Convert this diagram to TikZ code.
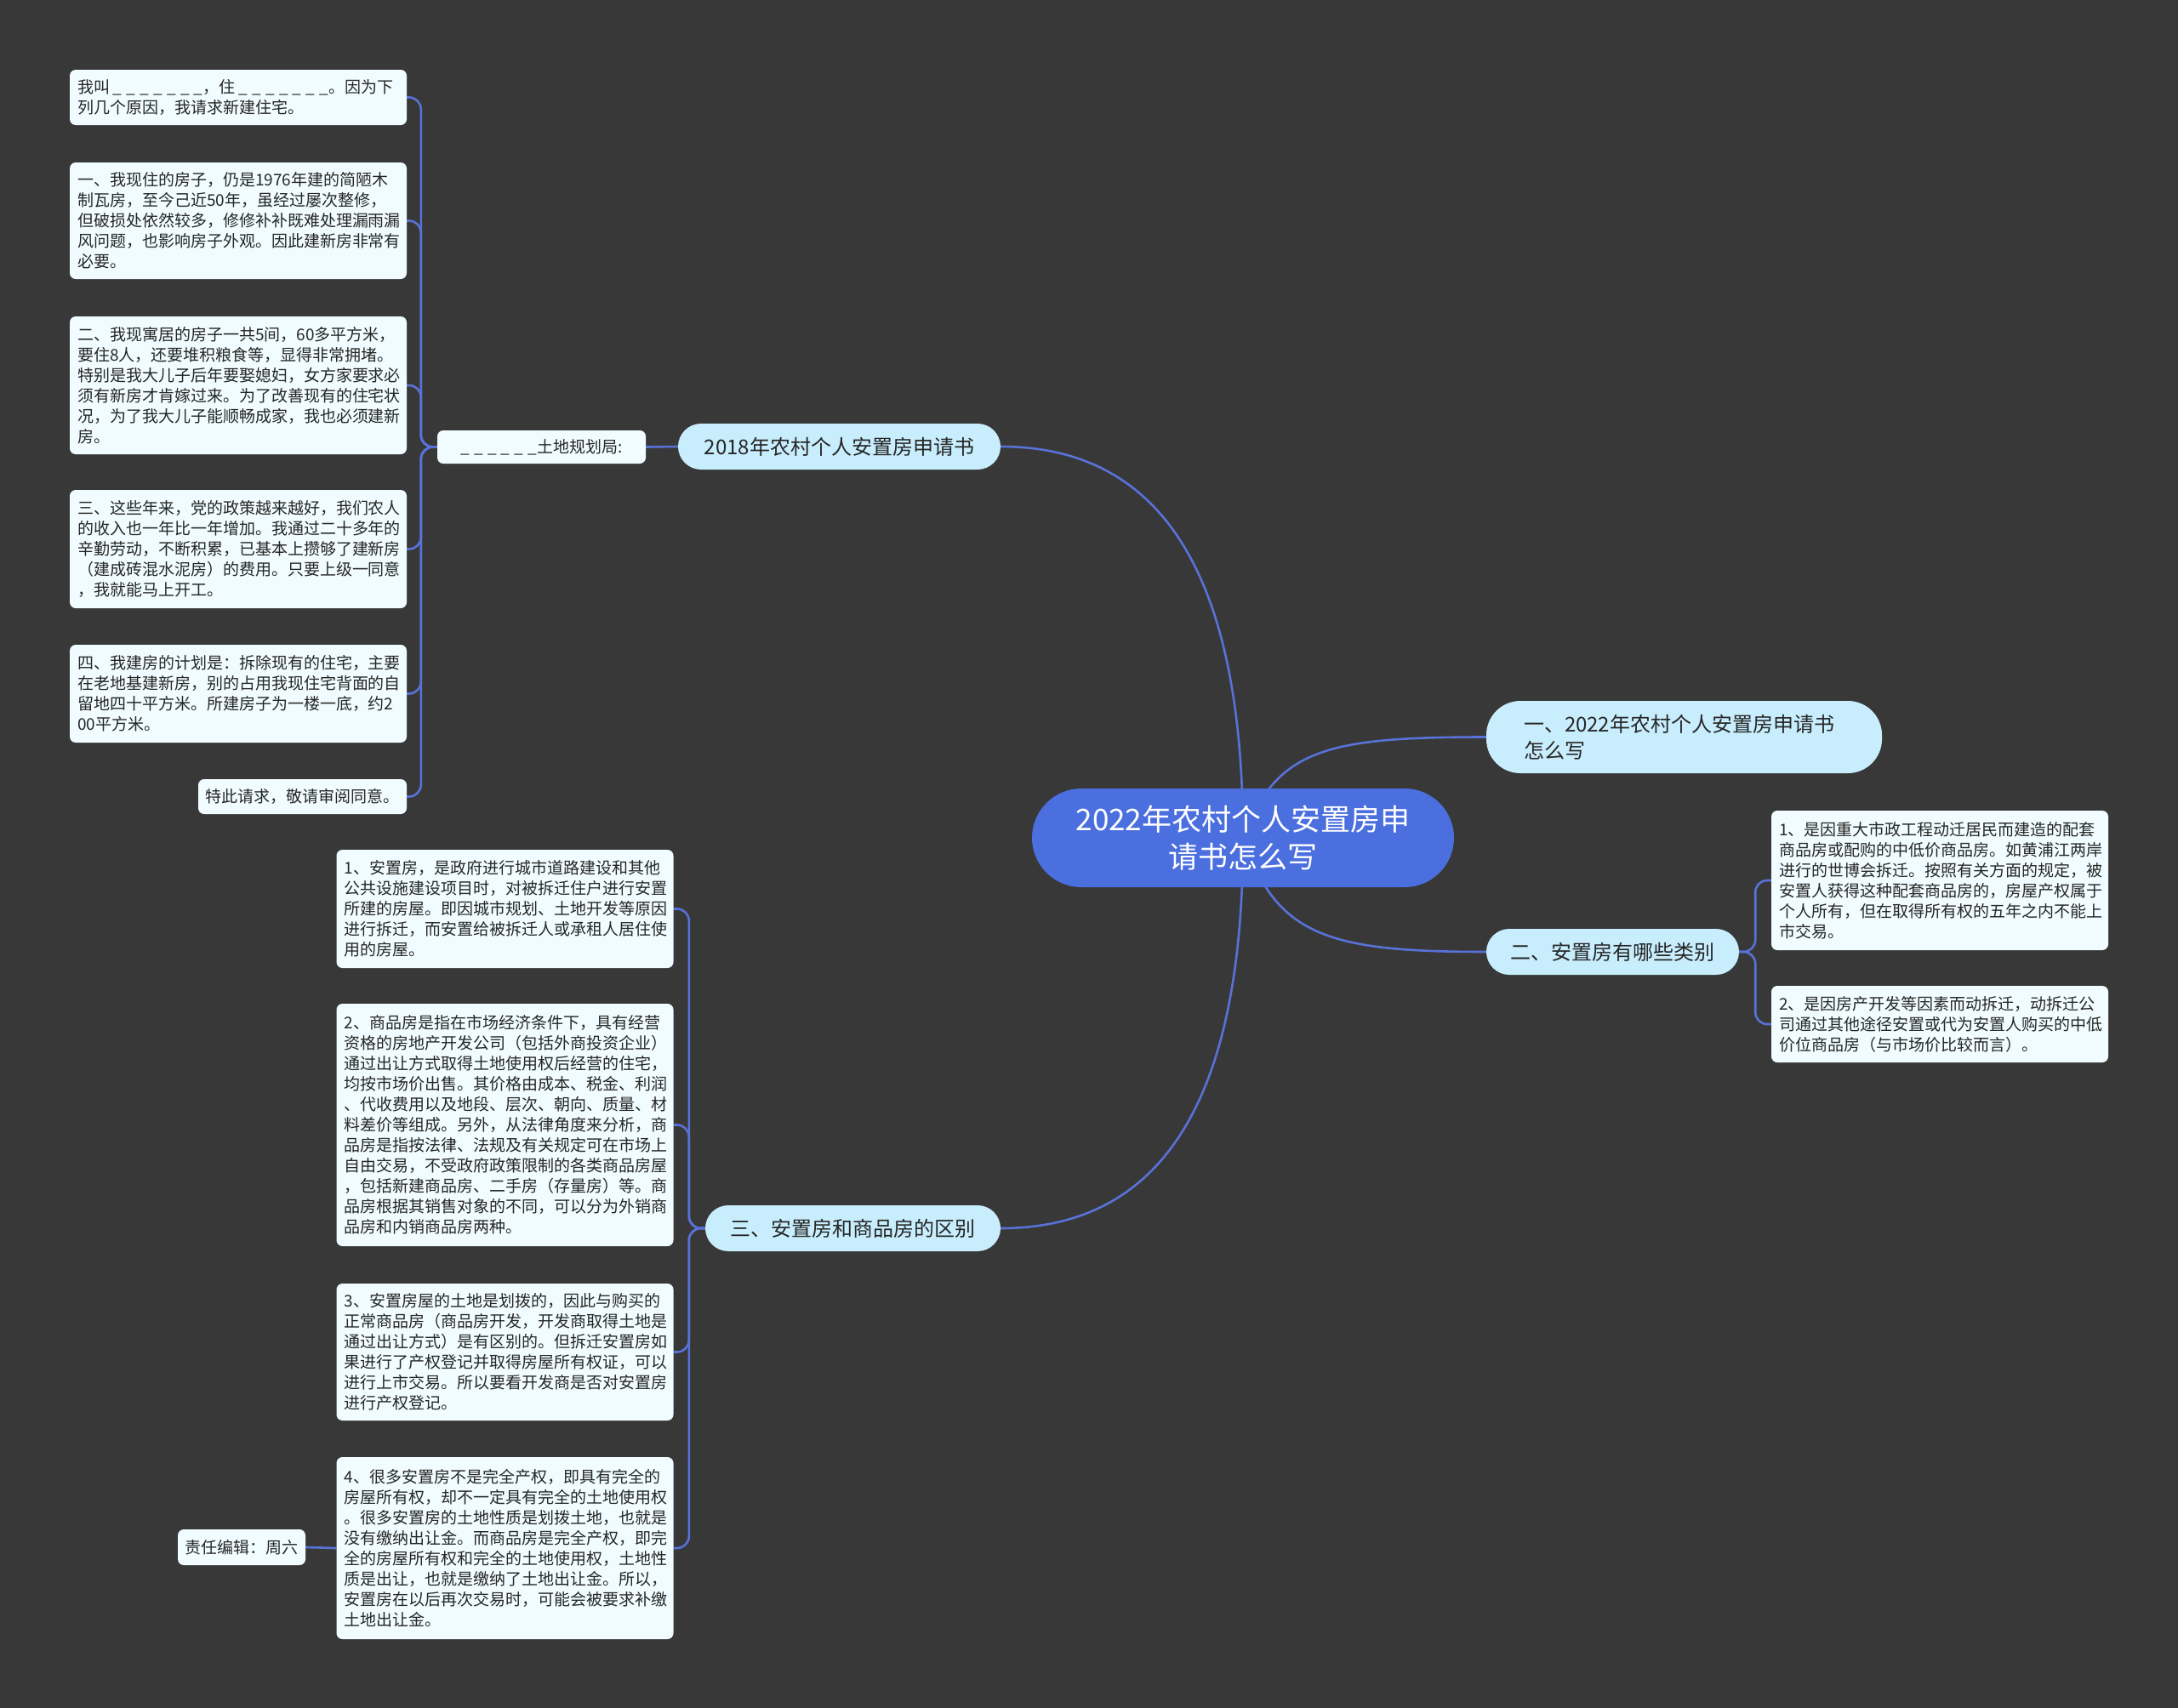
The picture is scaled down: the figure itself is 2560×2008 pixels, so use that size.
\documentclass[tikz,border=0pt]{standalone}
\usepackage{fontspec}
\newfontfamily\cjk{Noto Sans CJK SC}
\definecolor{bgc}{HTML}{383838}
\definecolor{linec}{HTML}{5872D8}
\definecolor{rootc}{HTML}{4B6FDE}
\definecolor{topicc}{HTML}{C8EDFC}
\definecolor{leafc}{HTML}{F0FCFF}
\definecolor{textc}{HTML}{262626}
\newcommand\myblank{\_\kern5.2pt}
\pgfdeclarelayer{bglayer}
\pgfdeclarelayer{lines}
\pgfsetlayers{bglayer,lines,main}
\begin{document}
\begin{tikzpicture}[x=1pt,y=-1pt,
  leaf/.style={rectangle, rounded corners=7pt, fill=leafc, text=textc,
    font=\cjk\fontsize{19pt}{24pt}\selectfont, inner xsep=9pt, inner ysep=0pt,
    text width=378pt, align=left, minimum width=396pt},
  small/.style={rectangle, rounded corners=7pt, fill=leafc, text=textc,
    font=\cjk\fontsize{19pt}{24pt}\selectfont, inner xsep=6pt, inner ysep=0pt},
  topic/.style={rectangle, rounded corners=27pt, fill=topicc, text=textc,
    font=\cjk\fontsize{24pt}{31pt}\selectfont, inner sep=0pt, minimum height=54pt},
  rootnode/.style={rectangle, rounded corners=58pt, fill=rootc, text=white,
    font=\cjk\fontsize{35pt}{44pt}\selectfont, align=center, inner sep=0pt,
    minimum width=496pt, minimum height=116pt},
  conn/.style={draw=linec, line width=2.6pt},
  elbow/.style={draw=linec, line width=2.6pt, rounded corners=14pt}]

\begin{pgfonlayer}{bglayer}
\fill[bgc] (0,0) rectangle (2560,2008);
\end{pgfonlayer}
\useasboundingbox (0,0) rectangle (2560,2008);

% root
\node[rootnode] (C) at (1461,985) {2022年农村个人安置房申\\请书怎么写};

% topics
\node[topic, minimum width=379pt] (T18) at (986.5,525) {2018年农村个人安置房申请书};
\node[topic, rounded corners=40pt, minimum height=85pt, text width=377pt, inner xsep=44pt, align=left] (N1) at (1979.5,866.5) {一、2022年农村个人安置房申请书\\怎么写};
\node[topic, minimum width=297pt] (N2) at (1895.5,1119) {二、安置房有哪些类别};
\node[topic, minimum width=347pt] (N3) at (1002.5,1444) {三、安置房和商品房的区别};

% left upper branch
\node[small, minimum width=245pt, minimum height=39pt] (P) at (636.5,525.5) {\myblank\myblank\myblank\myblank\myblank\_土地规划局:};
\node[leaf, minimum height=65pt] (A) at (280,114.5) {我叫\kern4pt\myblank\myblank\myblank\myblank\myblank\myblank\_，住\kern4pt\myblank\myblank\myblank\myblank\myblank\myblank\_。因为下\\列几个原因，我请求新建住宅。};
\node[leaf, minimum height=137pt] (B) at (280,259.5) {一、我现住的房子，仍是1976年建的简陋木\\制瓦房，至今己近50年，虽经过屡次整修，\\但破损处依然较多，修修补补既难处理漏雨漏\\风问题，也影响房子外观。因此建新房非常有\\必要。};
\node[leaf, minimum height=162pt] (Cc) at (280,453) {二、我现寓居的房子一共5间，60多平方米，\\要住8人，还要堆积粮食等，显得非常拥堵。\\特别是我大儿子后年要娶媳妇，女方家要求必\\须有新房才肯嫁过来。为了改善现有的住宅状\\况，为了我大儿子能顺畅成家，我也必须建新\\房。};
\node[leaf, minimum height=139pt] (D) at (280,645.5) {三、这些年来，党的政策越来越好，我们农人\\的收入也一年比一年增加。我通过二十多年的\\辛勤劳动，不断积累，已基本上攒够了建新房\\（建成砖混水泥房）的费用。只要上级一同意\\，我就能马上开工。};
\node[leaf, minimum height=115pt] (E) at (280,815.5) {四、我建房的计划是：拆除现有的住宅，主要\\在老地基建新房，别的占用我现住宅背面的自\\留地四十平方米。所建房子为一楼一底，约2\\00平方米。};
\node[small, minimum width=245pt, minimum height=41pt] (F) at (355.5,936.5) {特此请求，敬请审阅同意。};

% right branch
\node[leaf, minimum height=164pt] (R1) at (2280,1035) {1、是因重大市政工程动迁居民而建造的配套\\商品房或配购的中低价商品房。如黄浦江两岸\\进行的世博会拆迁。按照有关方面的规定，被\\安置人获得这种配套商品房的，房屋产权属于\\个人所有，但在取得所有权的五年之内不能上\\市交易。};
\node[leaf, minimum height=90pt] (R2) at (2280,1204) {2、是因房产开发等因素而动拆迁，动拆迁公\\司通过其他途径安置或代为安置人购买的中低\\价位商品房（与市场价比较而言）。};

% lower left branch
\node[leaf, minimum height=139pt] (L1) at (593.5,1068.5) {1、安置房，是政府进行城市道路建设和其他\\公共设施建设项目时，对被拆迁住户进行安置\\所建的房屋。即因城市规划、土地开发等原因\\进行拆迁，而安置给被拆迁人或承租人居住使\\用的房屋。};
\node[leaf, minimum height=285pt] (L2) at (593.5,1322.5) {2、商品房是指在市场经济条件下，具有经营\\资格的房地产开发公司（包括外商投资企业）\\通过出让方式取得土地使用权后经营的住宅，\\均按市场价出售。其价格由成本、税金、利润\\、代收费用以及地段、层次、朝向、质量、材\\料差价等组成。另外，从法律角度来分析，商\\品房是指按法律、法规及有关规定可在市场上\\自由交易，不受政府政策限制的各类商品房屋\\，包括新建商品房、二手房（存量房）等。商\\品房根据其销售对象的不同，可以分为外销商\\品房和内销商品房两种。};
\node[leaf, minimum height=161pt] (L3) at (593.5,1589.5) {3、安置房屋的土地是划拨的，因此与购买的\\正常商品房（商品房开发，开发商取得土地是\\通过出让方式）是有区别的。但拆迁安置房如\\果进行了产权登记并取得房屋所有权证，可以\\进行上市交易。所以要看开发商是否对安置房\\进行产权登记。};
\node[leaf, minimum height=214pt] (L4) at (593.5,1820) {4、很多安置房不是完全产权，即具有完全的\\房屋所有权，却不一定具有完全的土地使用权\\。很多安置房的土地性质是划拨土地，也就是\\没有缴纳出让金。而商品房是完全产权，即完\\全的房屋所有权和完全的土地使用权，土地性\\质是出让，也就是缴纳了土地出让金。所以，\\安置房在以后再次交易时，可能会被要求补缴\\土地出让金。};
\node[small, minimum width=150pt, minimum height=42pt] (J) at (284,1819) {责任编辑：周六};

\begin{pgfonlayer}{lines}
% root connectors
\draw[conn] (C.center) .. controls (1461,700) and (1380,525) .. (T18.east);
\draw[conn] (C.center) .. controls (1461,1270) and (1380,1444) .. (N3.east);
\draw[conn] (C.center) .. controls (1500,880) and (1560,866.5) .. (N1.west);
\draw[conn] (C.center) .. controls (1500,1100) and (1560,1119) .. (N2.west);
% 2018 branch
\draw[conn] (T18.west) -- (P.east);
\foreach \n in {A,B,Cc,D,E,F}
  \draw[elbow] (P.west) -- ++(-19,0) |- (\n.east);
% N2 branch
\foreach \n in {R1,R2}
  \draw[elbow] (N2.east) -- ++(19,0) |- (\n.west);
% N3 branch
\foreach \n in {L1,L2,L3,L4}
  \draw[elbow] (N3.west) -- ++(-19,0) |- (\n.east);
\draw[conn] (L4.west) -- (J.east);
\end{pgfonlayer}
\end{tikzpicture}
\end{document}
